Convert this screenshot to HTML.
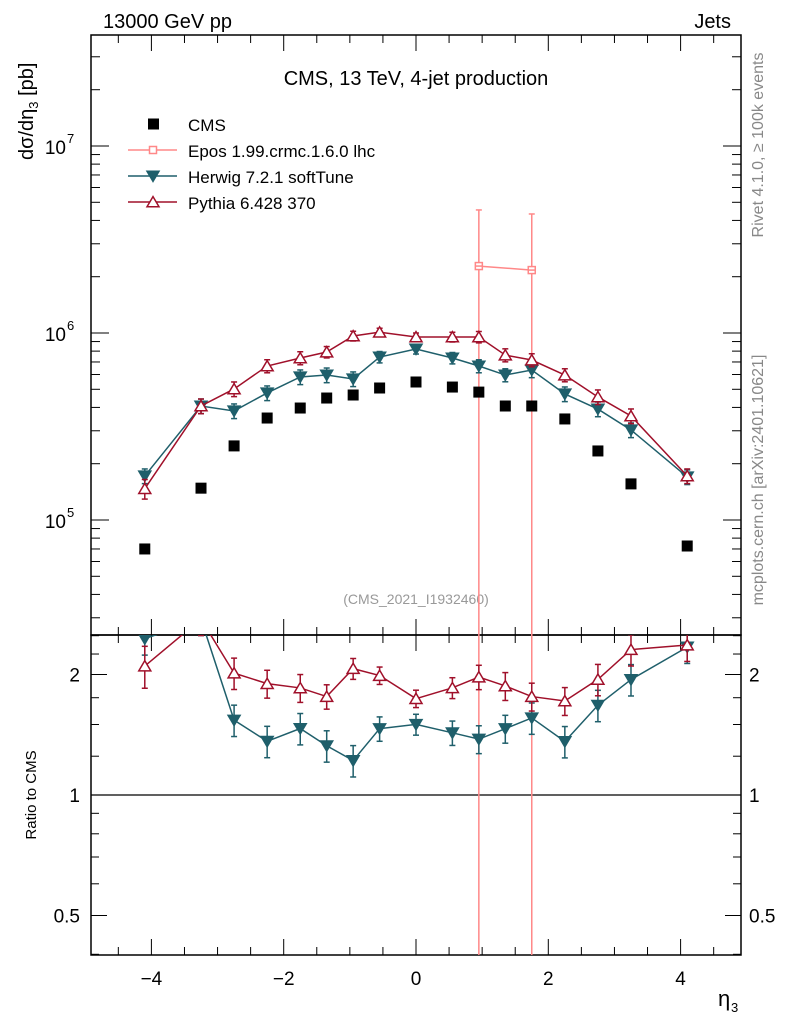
<!DOCTYPE html>
<html><head><meta charset="utf-8"><style>
html,body{margin:0;padding:0;background:#fff;overflow:hidden;width:786px;height:1024px;font-family:"Liberation Sans",sans-serif;}
svg{display:block;}
svg text{font-family:"Liberation Sans",sans-serif;}
</style></head><body>
<svg id="c" width="786" height="1024" xmlns="http://www.w3.org/2000/svg"></svg>
<script>
const etaBins=[-4.1,-3.25,-2.75,-2.25,-1.75,-1.35,-0.95,-0.55,0,0.55,0.95,1.35,1.75,2.25,2.75,3.25,4.1];
const cmsVals=[7.0e4,1.48e5,2.49e5,3.51e5,3.97e5,4.49e5,4.66e5,5.08e5,5.47e5,5.14e5,4.83e5,4.07e5,4.07e5,3.47e5,2.34e5,1.56e5,7.26e4];
const herwigVals=[1.72e5,4.07e5,3.83e5,4.78e5,5.82e5,5.96e5,5.68e5,7.44e5,8.21e5,7.35e5,6.66e5,5.96e5,6.34e5,4.72e5,3.92e5,3.03e5,1.70e5];
const herwigErr=[0.09,0.09,0.09,0.09,0.09,0.09,0.09,0.07,0.06,0.07,0.08,0.08,0.09,0.09,0.09,0.09,0.09];
const pythiaVals=[1.47e5,4.07e5,5.02e5,6.66e5,7.35e5,7.91e5,9.64e5,1.01e6,9.52e5,9.52e5,9.52e5,7.62e5,7.17e5,5.96e5,4.55e5,3.60e5,1.72e5];
const pythiaErr=[0.12,0.09,0.09,0.08,0.08,0.07,0.06,0.05,0.05,0.06,0.07,0.08,0.08,0.08,0.09,0.09,0.09];
const eposEta=[0.95,1.75];
const eposVals=[2.28e6,2.17e6];
const eposErr=[2.27e6,2.16e6];
const xTicks=[-4,-2,0,2,4];
const yTicks=[5,6,7];
const rTicks=[0.5,1,2];

const NS="http://www.w3.org/2000/svg";
const svg=document.getElementById('c');
const L=91,R=741,T=35,M=635,B=955;
const X=v=>416+66.15*v;
const Y=v=>520-187*(Math.log10(v)-5);
const RY=v=>795-120.5*Math.log2(v);
function el(tag,attrs,parent){const e=document.createElementNS(NS,tag);for(const k in attrs)e.setAttribute(k,attrs[k]);(parent||svg).appendChild(e);return e;}
function txt(s,x,y,size,anchor,fill,parent){const t=el('text',{x:x,y:y,'font-size':size,'text-anchor':anchor||'start',fill:fill||'#000'},parent);t.textContent=s;return t;}

const defs=el('defs',{});
const cp1=el('clipPath',{id:'cm'},defs);el('rect',{x:L,y:T,width:R-L,height:M-T},cp1);
const cp2=el('clipPath',{id:'cr'},defs);el('rect',{x:L,y:M,width:R-L,height:B-M},cp2);

let f1=el('rect',{x:L,y:T,width:R-L,height:M-T,fill:'none',stroke:'#000','stroke-width':1.5});

let f2=el('rect',{x:L,y:M,width:R-L,height:B-M,fill:'none',stroke:'#000','stroke-width':1.5});


for(let v=-4.5;v<=4.51;v+=0.5){
  const major=Math.abs(v-Math.round(v))<1e-6&&Math.round(v)%2===0;
  const len=major?16:8;
  el('line',{x1:X(v),x2:X(v),y1:B,y2:B-len,stroke:'#000'});
  el('line',{x1:X(v),x2:X(v),y1:M,y2:M-len,stroke:'#000'});
  el('line',{x1:X(v),x2:X(v),y1:M,y2:M+len,stroke:'#000'});
  el('line',{x1:X(v),x2:X(v),y1:T,y2:T+len,stroke:'#000'});
}
xTicks.forEach(v=>{const t=txt((v<0?'\u2212':'')+Math.abs(v),X(v),985,19,'middle');
});
let xt=txt('\u03b7',718,1006,22,'start');
txt('3',731,1012,13,'start');

for(let d=4;d<=7;d++){for(let m=1;m<=9;m++){const v=m*Math.pow(10,d);const y=Y(v);if(y<T||y>M)continue;
  const len=m===1?18:9;
  el('line',{x1:L,x2:L+len,y1:y,y2:y,stroke:'#000'});el('line',{x1:R,x2:R-len,y1:y,y2:y,stroke:'#000'});}}
yTicks.forEach(d=>{const g=el('g',{});
  txt('10',66,Y(Math.pow(10,d))+8,19,'end','#000',g);txt(String(d),67,Y(Math.pow(10,d))-3,13,'start','#000',g);});
let yt=el('text',{x:0,y:0,'font-size':20,transform:'translate(33,160) rotate(-90)'});

yt.innerHTML='d\u03c3/d\u03b7<tspan font-size="13" dy="5">3</tspan><tspan dy="-5"> [pb]</tspan>';

[0.4,0.6,0.7,0.8,0.9,1.25,1.5,1.75,2.25,2.5].forEach(v=>{const y=RY(v);if(y<M||y>B)return;
  el('line',{x1:L,x2:L+8,y1:y,y2:y,stroke:'#000'});el('line',{x1:R,x2:R-8,y1:y,y2:y,stroke:'#000'});});
rTicks.forEach(v=>{const y=RY(v);el('line',{x1:L,x2:L+16,y1:y,y2:y,stroke:'#000'});el('line',{x1:R,x2:R-16,y1:y,y2:y,stroke:'#000'});
  let a=txt(String(v),80,y+7,19,'end');
  let b=txt(String(v),749,y+7,19,'start');});
let rl=el('line',{x1:L,x2:R,y1:RY(1),y2:RY(1),stroke:'#000','stroke-width':1.2});

let rt=el('text',{x:0,y:0,'font-size':15,'text-anchor':'middle',transform:'translate(36,795) rotate(-90)'});rt.textContent='Ratio to CMS';


let t1=txt('13000 GeV pp',103,28,20);
let t2=txt('Jets',731,28,20,'end');
let t3=txt('CMS, 13 TeV, 4-jet production',416,85,20,'middle');
let t4=txt('(CMS_2021_I1932460)',416,604,14,'middle','#999');
let t5=el('text',{x:0,y:0,'font-size':16,fill:'#888','text-anchor':'middle',transform:'translate(763,145) rotate(-90)'});t5.textContent='Rivet 4.1.0, \u2265 100k events';

let t6=el('text',{x:0,y:0,'font-size':16,fill:'#888','text-anchor':'middle',transform:'translate(763,480) rotate(-90)'});t6.textContent='mcplots.cern.ch [arXiv:2401.10621]';


function tri(g,x,y,down,color,fill){const s=6;const p=down?`${x-s},${y-s*0.8} ${x+s},${y-s*0.8} ${x},${y+s*0.9}`:`${x-s},${y+s*0.8} ${x+s},${y+s*0.8} ${x},${y-s*0.9}`;
  return el('polygon',{points:p,fill:fill,stroke:color,'stroke-width':1.5},g);}
function series(vals,errs,color,down,fill,name,yf,clip,ratio){
  const g=el('g',{'clip-path':clip});
  const pts=vals.map((v,i)=>[X(etaBins[i]),yf(ratio?v/cmsVals[i]:v)]);
  el('polyline',{points:pts.map(p=>p.join(',')).join(' '),fill:'none',stroke:color,'stroke-width':1.5},g);
  vals.forEach((v,i)=>{const c=ratio?v/cmsVals[i]:v;const x=X(etaBins[i]);
    const y1=yf(c*(1+errs[i])),y2=yf(c*(1-errs[i]));
    el('line',{x1:x,x2:x,y1:y1,y2:y2,stroke:color,'stroke-width':1.5},g);
    el('line',{x1:x-3,x2:x+3,y1:y1,y2:y1,stroke:color,'stroke-width':1.5},g);
    el('line',{x1:x-3,x2:x+3,y1:y2,y2:y2,stroke:color,'stroke-width':1.5},g);
    const m=tri(g,x,yf(c),down,color,fill);});
}
function epos(yf,clip,ratio){
  const g=el('g',{'clip-path':clip});
  const col='#f88';
  const pts=eposVals.map((v,i)=>{const j=etaBins.indexOf(eposEta[i]);return [X(eposEta[i]),yf(ratio?v/cmsVals[j]:v)];});
  el('polyline',{points:pts.map(p=>p.join(',')).join(' '),fill:'none',stroke:col,'stroke-width':1.5},g);
  eposVals.forEach((v,i)=>{const j=etaBins.indexOf(eposEta[i]);const s=ratio?1/cmsVals[j]:1;const x=X(eposEta[i]);
    const hi=yf((v+eposErr[i])*s),lo=Math.max(v-eposErr[i],1)*s;const y2=yf(lo);
    el('line',{x1:x,x2:x,y1:hi,y2:Math.min(y2,1000),stroke:col,'stroke-width':1.5},g);
    el('line',{x1:x-3,x2:x+3,y1:hi,y2:hi,stroke:col,'stroke-width':1.5},g);
    const y=yf(v*s);
    const m=el('rect',{x:x-3.5,y:y-3.5,width:7,height:7,fill:'#fff',stroke:col,'stroke-width':1.5},g);
    
    el('line',{x1:x-3.5,x2:x+3.5,y1:y,y2:y,stroke:col,'stroke-width':1.5},g);});
}
epos(Y,'url(#cm)',false);
series(herwigVals,herwigErr,'#1f5f6b',true,'#1f5f6b','herwig-series',Y,'url(#cm)',false);
series(pythiaVals,pythiaErr,'#a0102a',false,'#fff','pythia-series',Y,'url(#cm)',false);
const cg=el('g',{'clip-path':'url(#cm)'});
cmsVals.forEach((v,i)=>{const r=el('rect',{x:X(etaBins[i])-5.5,y:Y(v)-5.5,width:11,height:11,fill:'#000'},cg);
  });
epos(RY,'url(#cr)',true);
series(herwigVals,herwigErr,'#1f5f6b',true,'#1f5f6b','herwig-ratio',RY,'url(#cr)',true);
series(pythiaVals,pythiaErr,'#a0102a',false,'#fff','pythia-ratio',RY,'url(#cr)',true);

const lg=el('g',{});
const ly=[124,150,176,202];
const names=['CMS','Epos 1.99.crmc.1.6.0 lhc','Herwig 7.2.1 softTune','Pythia 6.428 370'];
names.forEach((n,i)=>{const e=el('g',{},lg);
  const y=ly[i];
  if(i===0){el('rect',{x:148,y:y-5.5,width:11,height:11,fill:'#000'},e);}
  else{const col=['','#f88','#1f5f6b','#a0102a'][i];el('line',{x1:128,x2:177,y1:y,y2:y,stroke:col,'stroke-width':1.5},e);
    if(i===1){el('rect',{x:149.5,y:y-3.5,width:7,height:7,fill:'#fff',stroke:col,'stroke-width':1.5},e);}
    else tri(e,153,y,i===2,col,i===2?col:'#fff');}
  txt(n,188,y+7,17,'start','#000',e);});
</script>
</body></html>
